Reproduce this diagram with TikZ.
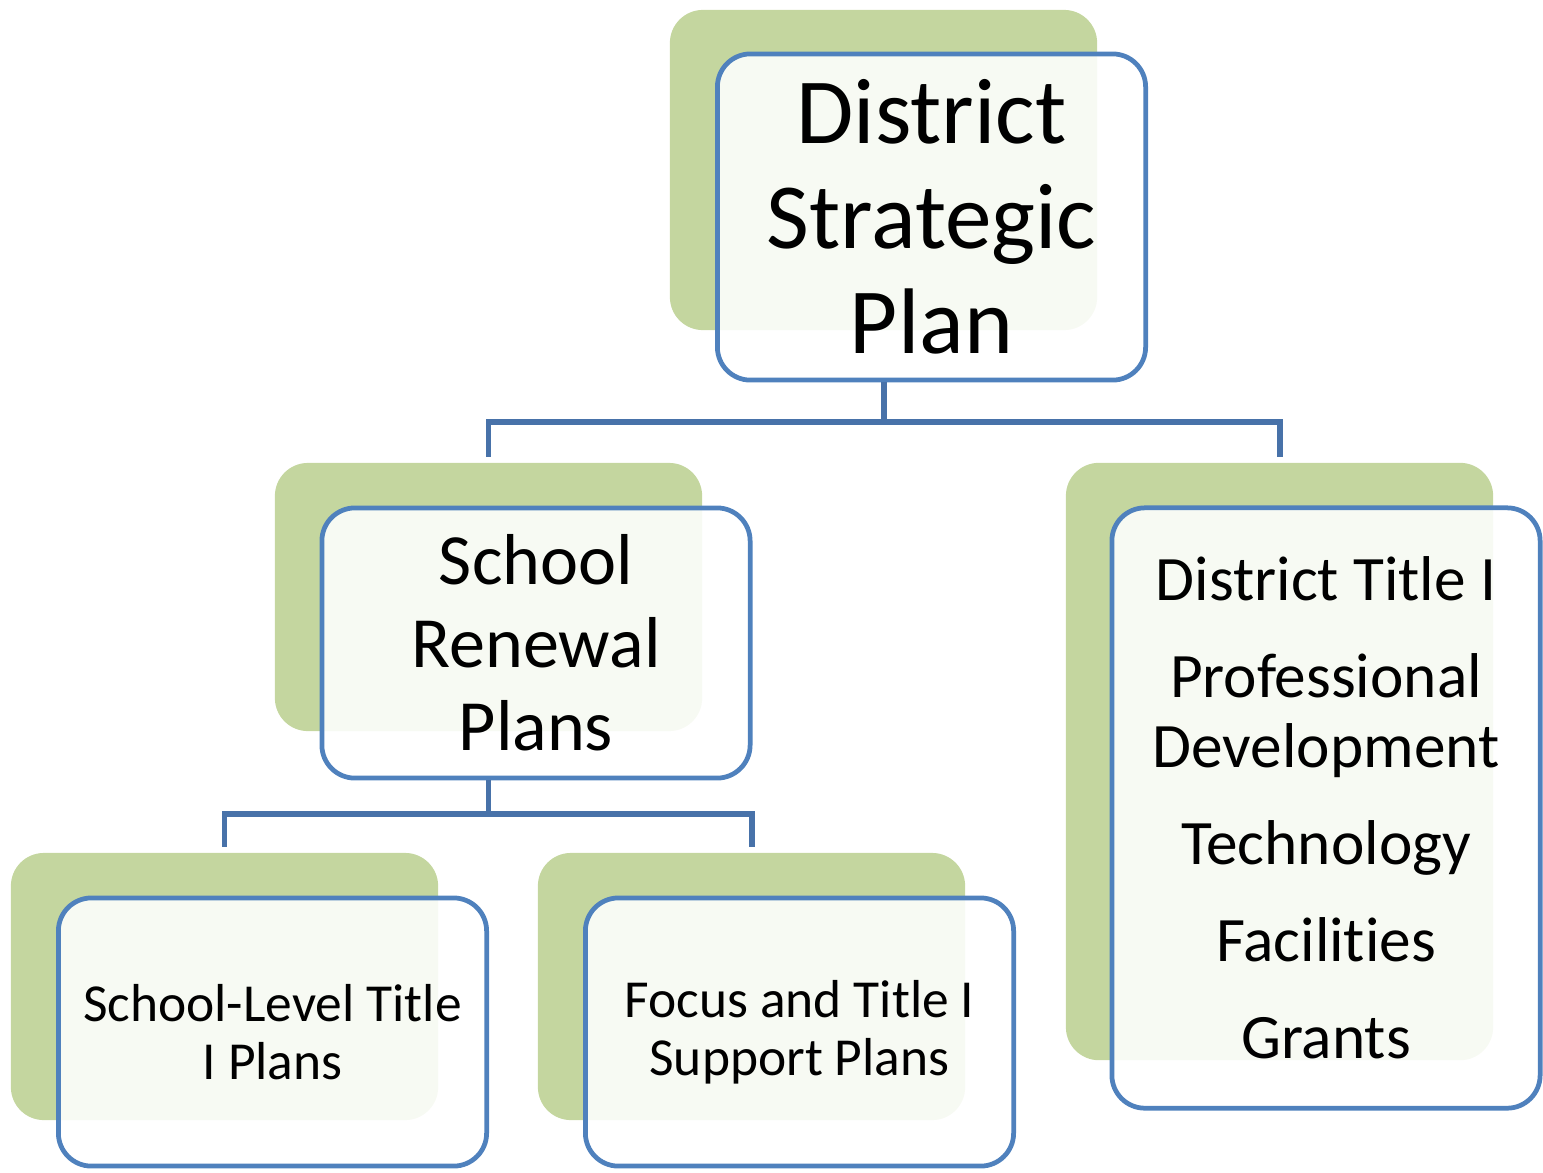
\documentclass[tikz,border=0pt]{standalone}
\usepackage{fontspec}
\setmainfont{Carlito}[Ligatures=NoCommon]
\definecolor{planGreen}{HTML}{C4D69F}
\definecolor{planBlue}{HTML}{4F81BD}
\definecolor{linkBlue}{HTML}{4872A9}
\begin{document}
\begin{tikzpicture}[x=0.01cm,y=-0.01cm,
        back/.style={fill=planGreen,rounded corners=0.33cm,minimum width=4.27cm,inner sep=0},
        front/.style={draw=planBlue,line width=1.35pt,fill=white,fill opacity=.88,text opacity=1,
            rounded corners=0.33cm,minimum width=4.28cm,inner sep=0,align=center},
        link/.style={draw=linkBlue,line width=1.7pt}]
                \useasboundingbox (0,0) rectangle (1543,1172);
                \node[back,minimum height=3.2cm] (dspback) at (883.5,170) {};
                \node[front,minimum height=3.26cm,font=\fontsize{26.5}{29.9}\selectfont] (dsp) at ([shift={(48,47)}]dspback.center) {District\\Strategic\\Plan};
                \node[back,minimum height=2.68cm] (srpback) at (488.5,597) {};
                \node[front,minimum height=2.7cm,font=\fontsize{20.5}{23.6}\selectfont] (srp) at ([shift={(47.5,46)}]srpback.center) {School\\Renewal\\Plans};
                \node[back,minimum height=5.97cm] (dtback) at (1279.5,761.5) {};
                \node[front,minimum height=6cm,font=\fontsize{18}{19.9}\selectfont] (dt) at ([shift={(46.5,46.5)}]dtback.center) {District Title I\\[7.7pt]Professional\\Development\\[7.7pt]Technology\\[7.7pt]Facilities\\[7.7pt]Grants};
                \node[back,minimum height=2.67cm] (slback) at (224.5,986.5) {};
                \node[front,minimum height=2.68cm,font=\fontsize{15.2}{16.5}\selectfont] (sl) at ([shift={(48,45.5)}]slback.center) {School-Level Title\\I Plans};
                \node[back,minimum height=2.67cm] (ftback) at (751.5,986.5) {};
                \node[front,minimum height=2.68cm,font=\fontsize{15.2}{16.5}\selectfont] (ft) at ([shift={(48,45.5)}]ftback.center) {Focus and Title I\\Support Plans};
                \draw[link] (dspback.center |- dsp.south) -- ++(0,40) -| ([yshift=1.4pt]srpback.north);
                \draw[link] (dspback.center |- dsp.south) -- ++(0,40) -| ([yshift=1.4pt]dtback.north);
                \draw[link] (srpback.center |- srp.south) -- ++(0,34) -| ([yshift=1.4pt]slback.north);
                \draw[link] (srpback.center |- srp.south) -- ++(0,34) -| ([yshift=1.4pt]ftback.north);
            \end{tikzpicture}
\end{document}
